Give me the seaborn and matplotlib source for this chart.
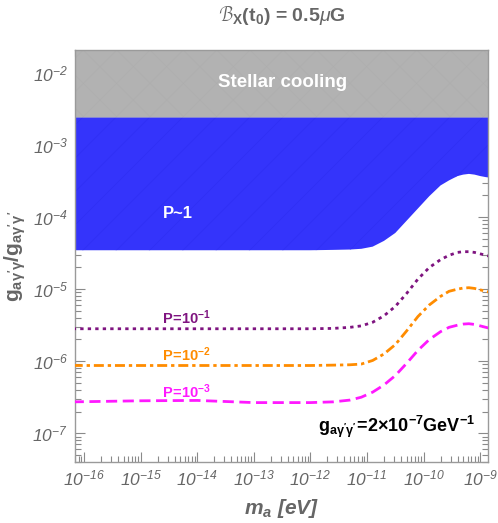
import numpy as np
import pandas as pd
import matplotlib
matplotlib.use("Agg")
import matplotlib.pyplot as plt
import seaborn as sns
from matplotlib.ticker import LogLocator, FixedLocator, FuncFormatter, NullFormatter

# ---------------- data (log10 values) ----------------
log_mass = [-16.2, -15.0, -14.0, -13.0, -12.0, -11.6, -11.3, -11.1, -10.9, -10.7,
            -10.5, -10.3, -10.1, -9.9, -9.7, -9.55, -9.4, -9.3, -9.2, -9.1,
            -9.0, -8.9, -8.85]
log_P1 = [-5.55, -5.55, -5.55, -5.55, -5.55, -5.545, -5.53, -5.51, -5.46, -5.37,
          -5.24, -5.06, -4.86, -4.70, -4.59, -4.53, -4.49, -4.48, -4.48, -4.49,
          -4.51, -4.53, -4.54]
log_P2 = [-6.06, -6.06, -6.06, -6.06, -6.06, -6.055, -6.05, -6.04, -5.99, -5.90,
          -5.77, -5.58, -5.38, -5.22, -5.10, -5.03, -5.00, -4.985, -4.98, -4.99,
          -5.01, -5.03, -5.04]
log_P3 = [-6.565, -6.55, -6.545, -6.575, -6.575, -6.565, -6.54, -6.50, -6.43, -6.33,
          -6.20, -6.03, -5.85, -5.70, -5.59, -5.53, -5.50, -5.485, -5.48, -5.49,
          -5.51, -5.53, -5.54]
log_Pone = [-4.46, -4.46, -4.46, -4.46, -4.46, -4.455, -4.45, -4.44, -4.41, -4.33,
            -4.22, -4.05, -3.88, -3.71, -3.56, -3.49, -3.43, -3.41, -3.40, -3.41,
            -3.43, -3.445, -3.45]
stellar_bound = 2.43e-3
series_names = ["P=1e-1", "P=1e-2", "P=1e-3"]
x_tick_exps = [-16, -15, -14, -13, -12, -11, -10, -9]
y_tick_exps = [-7, -6, -5, -4, -3, -2]

# ---------------- style ----------------
sns.set_style("ticks")
plt.rcParams['font.family'] = ['Liberation Sans', 'DejaVu Sans']
plt.rcParams['mathtext.fontset'] = 'custom'
plt.rcParams['mathtext.rm'] = 'Liberation Sans:italic'
plt.rcParams['mathtext.it'] = 'Liberation Sans:italic'
plt.rcParams['mathtext.bf'] = 'Liberation Sans:bold'
plt.rcParams['mathtext.bfit'] = 'Liberation Sans:bold:italic'
plt.rcParams['hatch.linewidth'] = 0.35

mass = 10 ** np.array(log_mass)
df = pd.concat([
    pd.DataFrame({"mass": mass, "g": 10 ** np.array(v), "P": n})
    for n, v in zip(series_names, [log_P1, log_P2, log_P3])
])

fig = plt.figure(figsize=(4.98, 5.23), dpi=100)
ax = fig.add_axes([0.1506, 0.1166, 0.8284, 0.7878])
ax.set_xscale('log')
ax.set_yscale('log')

ytop = 10 ** -1.68
ax.fill_between(mass, stellar_bound, ytop, facecolor='#b2b2b2', edgecolor='#abababb0',
                hatch='x', linewidth=0, zorder=1)
ax.fill_between(mass, 10 ** np.array(log_Pone), stellar_bound, facecolor='#3434fb',
                edgecolor='#2d2df2', hatch='/', linewidth=0, zorder=1)
ax.plot(mass, np.full(len(mass), stellar_bound), color='#8a8ad0', lw=0.6, zorder=2)

palette = {"P=1e-1": "#7f1480", "P=1e-2": "#ff8c00", "P=1e-3": "#ff19ff"}
dashes = {"P=1e-1": (1.2, 1.5), "P=1e-2": (3.6, 1.4, 1.2, 1.4), "P=1e-3": (4.0, 2.0)}
sns.lineplot(data=df, x="mass", y="g", hue="P", style="P", palette=palette,
             dashes=dashes, linewidth=2.0, legend=False, ax=ax, zorder=3,
             estimator=None, sort=True)

ax.set_xlim(10 ** -16.16, 10 ** -8.87)
ax.set_ylim(10 ** -7.4, ytop)

ax.xaxis.set_major_locator(FixedLocator([10.0 ** e for e in x_tick_exps]))
ax.xaxis.set_minor_locator(LogLocator(base=10, subs=np.arange(2, 10), numticks=200))
ax.yaxis.set_major_locator(FixedLocator([10.0 ** e for e in y_tick_exps]))
ax.yaxis.set_minor_locator(LogLocator(base=10, subs=np.arange(2, 10), numticks=200))
fmt = FuncFormatter(lambda v, p: r"$10^{%d}$" % int(round(np.log10(v))))
ax.xaxis.set_major_formatter(fmt)
ax.yaxis.set_major_formatter(fmt)
ax.xaxis.set_minor_formatter(NullFormatter())
ax.yaxis.set_minor_formatter(NullFormatter())

ax.tick_params(which='both', direction='in', top=True, right=True,
               colors='#8a8a8a', labelcolor='#666666', labelsize=12.5, width=0.8)
ax.tick_params(which='major', length=7, pad=5)
ax.tick_params(which='minor', length=4.5)
for s in ax.spines.values():
    s.set_color('#9a9a9a')
    s.set_linewidth(1.0)

ax.set_xlabel(r"$\mathbfit{m_a}\ \mathbfit{[eV]}$", fontsize=15, color='#666666', labelpad=6)
ax.set_ylabel(r"$\mathbf{g_{a\gamma'\gamma}/g_{a\gamma'\gamma'}}$", fontsize=15,
              color='#666666', labelpad=3)

fig.text(0.566, 0.971, r"$\mathcal{B}_{\mathbf{X}}\mathbf{(t_0)}$ = 0.5$\mu$G",
         ha='center', va='center', fontsize=14, fontweight='bold', color='#666666')

tr = ax.transAxes
ax.text(0.502, 0.92, "Stellar cooling", transform=tr, ha='center', va='center',
        fontsize=13.5, fontweight='bold', color='white', zorder=5)
ax.text(0.25, 0.602, "P~1", transform=tr, ha='center', va='center',
        fontsize=12, fontweight='bold', color='white', zorder=5)
ax.text(0.211, 0.35, r"$\mathbf{P\!=\!10^{-1}}$", transform=tr, ha='left', va='center',
        fontsize=10.5, color='#7f1480', zorder=5)
ax.text(0.211, 0.26, r"$\mathbf{P\!=\!10^{-2}}$", transform=tr, ha='left', va='center',
        fontsize=10.5, color='#ff8c00', zorder=5)
ax.text(0.211, 0.17, r"$\mathbf{P\!=\!10^{-3}}$", transform=tr, ha='left', va='center',
        fontsize=10.5, color='#ff19ff', zorder=5)
ax.text(0.97, 0.085, r"$\mathbf{g_{a\gamma'\gamma'}\!=\!2{\times}10^{-7}GeV^{-1}}$",
        transform=tr, ha='right', va='center', fontsize=13, color='black', zorder=5)

fig.savefig("out.png", dpi=100)
